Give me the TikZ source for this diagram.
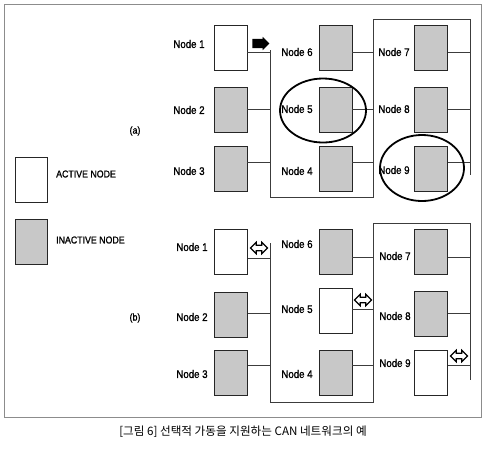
\documentclass[tikz,border=0pt]{standalone}
\usepackage{fontspec}
\usepackage{tikz}
\usetikzlibrary{shapes.geometric,shapes.arrows}
\newfontfamily\labelfont{Liberation Sans}[FakeStretch=0.88,FakeBold=1.2]
\newfontfamily\cjk{Noto Sans CJK KR}
\definecolor{inactgray}{RGB}{200,200,200}
\definecolor{busgray}{RGB}{60,60,60}

\begin{document}
\begin{tikzpicture}[x=1pt, y=-1pt,
  actnode/.style={draw=black!85, fill=white, line width=0.9pt, minimum width=33pt, minimum height=45pt, inner sep=0pt},
  inactnode/.style={actnode, fill=inactgray},
  lbl/.style={font=\labelfont\fontsize{11}{12}\selectfont, text=black, inner sep=0pt},
  bus/.style={draw=busgray, line width=0.9pt},
  ring/.style={draw=black, line width=1.8pt, ellipse, inner sep=0pt},
  wakearrow/.style={single arrow, fill=black, inner sep=4.5pt, single arrow head extend=2pt, minimum height=17pt, single arrow head indent=0pt},
  linkarrow/.style={double arrow, draw=black, fill=white, line width=1.1pt, inner sep=2.2pt, double arrow head extend=3pt, minimum height=17pt}]
  \useasboundingbox (0,0) rectangle (487,451);
  \draw[black!45, line width=0.9pt] (4,4) rectangle (481,417);

  % legend
  \node[actnode, minimum width=32pt] (legact) at (31,179.5) {};
  \node[inactnode, minimum width=32pt] (leginact) at (31,242) {};
  \node[lbl, font=\labelfont\fontsize{10}{12}\selectfont, anchor=west] (legacttxt) at (56,174) {ACTIVE NODE};
  \node[lbl, font=\labelfont\fontsize{10}{12}\selectfont, anchor=west] (leginacttxt) at (56,240) {INACTIVE NODE};

  % (a)
  \node[lbl, font=\labelfont\fontsize{10}{12}\selectfont] (tagA) at (135,131) {(a)};
  \node[actnode]   (n1a) at (230.5,47.5) {};
  \node[inactnode] (n2a) at (230.5,110) {};
  \node[inactnode] (n3a) at (230.5,169) {};
  \node[inactnode] (n6a) at (335.5,47.5) {};
  \node[inactnode] (n5a) at (335.5,110) {};
  \node[inactnode] (n4a) at (335.5,169) {};
  \node[inactnode] (n7a) at (431,47.5) {};
  \node[inactnode] (n8a) at (431,110) {};
  \node[inactnode] (n9a) at (431,169) {};
  \node[lbl] (t1a) at (189,44) {Node 1};
  \node[lbl] (t2a) at (189,110) {Node 2};
  \node[lbl] (t3a) at (189,171) {Node 3};
  \node[lbl] (t6a) at (297,52) {Node 6};
  \node[lbl] (t5a) at (297,109) {Node 5};
  \node[lbl] (t4a) at (297,171) {Node 4};
  \node[lbl] (t7a) at (394,52) {Node 7};
  \node[lbl] (t8a) at (394,109) {Node 8};
  \node[lbl] (t9a) at (394,170) {Node 9};

  \coordinate (busAL) at (270,50);
  \coordinate (busALb) at (270,197);
  \coordinate (busAM) at (373,197);
  \coordinate (busAMt) at (373,19);
  \coordinate (busAR) at (470,19);
  \coordinate (busARb) at (470,175);
  \draw[bus] (busAL) -- (busALb) -- (busAM) -- (busAMt) -- (busAR) -- (busARb);
  \draw[bus] (n1a.east |- 0,52) -- (busAL |- 0,52);
  \draw[bus] (n2a.east |- 0,109) -- (busAL |- 0,109);
  \draw[bus] (n3a.east |- 0,162) -- (busAL |- 0,162);
  \draw[bus] (n6a.east |- 0,52) -- (busAM |- 0,52);
  \draw[bus] (n5a.east |- 0,109) -- (busAM |- 0,109);
  \draw[bus] (n4a.east |- 0,162) -- (busAM |- 0,162);
  \draw[bus] (n7a.east |- 0,52) -- (busAR |- 0,52);
  \draw[bus] (n8a.east |- 0,109) -- (busAR |- 0,109);
  \draw[bus] (n9a.east |- 0,162) -- (busAR |- 0,162);

  \node[wakearrow] (wake) at (258.5,43.5) {};
  \node[ring, minimum width=86pt, minimum height=64pt] (ring5) at (323,110.5) {};
  \node[ring, minimum width=84pt, minimum height=66pt] (ring9) at (422,168) {};

  % (b)
  \node[lbl, font=\labelfont\fontsize{10}{12}\selectfont] (tagB) at (135,318) {(b)};
  \node[actnode]   (n1b) at (231,251.5) {};
  \node[inactnode] (n2b) at (231,314.5) {};
  \node[inactnode] (n3b) at (231,372.5) {};
  \node[inactnode] (n6b) at (335.5,251.5) {};
  \node[actnode]   (n5b) at (335.5,310.5) {};
  \node[inactnode] (n4b) at (335.5,372.5) {};
  \node[inactnode] (n7b) at (431,251.5) {};
  \node[inactnode] (n8b) at (431,313.5) {};
  \node[actnode]   (n9b) at (431,372.5) {};
  \node[lbl] (t1b) at (192,247) {Node 1};
  \node[lbl] (t2b) at (192,317) {Node 2};
  \node[lbl] (t3b) at (192,374) {Node 3};
  \node[lbl] (t6b) at (297,244) {Node 6};
  \node[lbl] (t5b) at (297,309) {Node 5};
  \node[lbl] (t4b) at (297,374) {Node 4};
  \node[lbl] (t7b) at (395,256) {Node 7};
  \node[lbl] (t8b) at (395,316) {Node 8};
  \node[lbl] (t9b) at (395,363) {Node 9};

  \coordinate (busBL) at (270,243);
  \coordinate (busBLb) at (270,402);
  \coordinate (busBM) at (373,402);
  \coordinate (busBMt) at (373,223);
  \coordinate (busBR) at (470,223);
  \coordinate (busBRb) at (470,380);
  \draw[bus] (busBL) -- (busBLb) -- (busBM) -- (busBMt) -- (busBR) -- (busBRb);
  \draw[bus] (n1b.east |- 0,258) -- (busBL |- 0,258);
  \draw[bus] (n2b.east |- 0,313) -- (busBL |- 0,313);
  \draw[bus] (n3b.east |- 0,365) -- (busBL |- 0,365);
  \draw[bus] (n6b.east |- 0,257) -- (busBM |- 0,257);
  \draw[bus] (n5b.east |- 0,309) -- (busBM |- 0,309);
  \draw[bus] (n4b.east |- 0,365) -- (busBM |- 0,365);
  \draw[bus] (n7b.east |- 0,257) -- (busBR |- 0,257);
  \draw[bus] (n8b.east |- 0,313) -- (busBR |- 0,313);
  \draw[bus] (n9b.east |- 0,365) -- (busBR |- 0,365);

  \node[linkarrow] (link1) at (259,248) {};
  \node[linkarrow] (link5) at (363,300) {};
  \node[linkarrow] (link9) at (459,356) {};

  % caption
  \node[font=\cjk\fontsize{11.6}{13}\selectfont, text=black, inner sep=0pt] (caption) at (243,432) {[그림 6] 선택적 가동을 지원하는 CAN 네트워크의 예};
\end{tikzpicture}
\end{document}
